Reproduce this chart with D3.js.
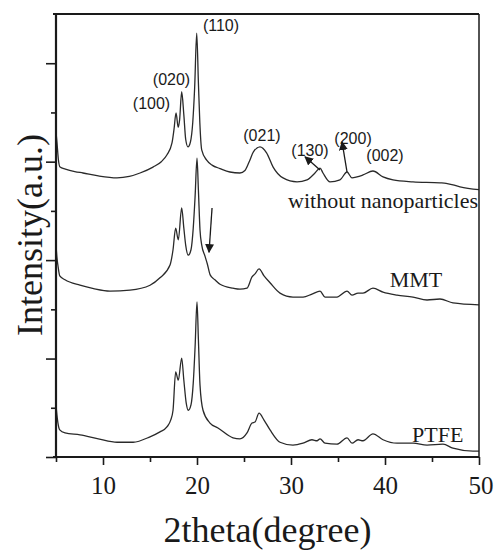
<!DOCTYPE html>
<html><head><meta charset="utf-8">
<script src="https://cdn.jsdelivr.net/npm/d3@7/dist/d3.min.js"></script>
<style>body{margin:0;background:#fff} svg{display:block}</style>
</head><body>
<svg id="c" width="494" height="550"></svg>
<script>
// ---- data (2theta in degrees, intensity in arbitrary offset units) ----
const thetaTop = [5.0,5.1,5.25,5.43,6.0,7.0,7.87,9.5,11.49,12.8,13.94,15.32,16.2,16.81,17.34,17.55,17.77,18.0,18.15,18.37,18.6,18.8,19.04,19.3,19.55,19.75,19.97,20.15,20.3,20.5,21.03,21.6,22.45,23.5,24.57,25.1,25.6,26.0,26.7,27.4,28.1,29.15,30.64,31.7,32.55,33.09,33.4,34.15,35.21,35.96,36.49,37.02,37.66,38.72,39.79,40.85,42.98,45.85,46.5,47.98,50];
const intensityTop = [6.60,6.40,6.05,5.89,5.85,5.80,5.77,5.71,5.67,5.70,5.77,5.89,6.00,6.14,6.38,6.65,6.99,6.70,6.85,7.42,6.95,6.45,6.30,6.40,6.80,7.50,8.61,7.60,6.80,6.24,6.03,5.93,5.86,5.79,5.77,5.82,6.02,6.20,6.30,6.18,5.89,5.67,5.59,5.63,5.77,5.87,5.77,5.59,5.63,5.79,5.67,5.69,5.73,5.81,5.69,5.63,5.59,5.57,5.56,5.49,5.43];

const thetaMMT = [5.0,5.1,5.2,5.4,5.96,7.55,9.0,10.74,12.87,15.0,16.06,17.13,17.45,17.73,18.01,18.37,18.6,18.8,19.07,19.36,19.6,19.8,20.0,20.15,20.32,20.5,20.85,21.1,21.4,21.91,22.45,23.83,24.57,25.32,25.85,26.17,26.6,27.13,27.77,28.83,30.21,31.28,32.23,33.09,33.62,34.89,35.96,36.49,37.13,37.66,38.72,39.79,41.28,42.98,44.47,45.85,47.23,50];
const intensityMMT = [4.31,4.05,3.90,3.68,3.60,3.49,3.42,3.37,3.39,3.49,3.64,3.90,4.21,4.65,4.41,5.06,4.65,4.30,4.10,4.21,4.65,5.30,6.07,5.42,4.61,4.31,4.08,3.92,3.70,3.60,3.51,3.43,3.41,3.43,3.66,3.72,3.82,3.68,3.54,3.33,3.25,3.25,3.31,3.37,3.25,3.25,3.37,3.29,3.33,3.33,3.43,3.35,3.29,3.25,3.19,3.21,3.13,3.09];

const thetaPTFE = [5.0,5.1,5.2,5.4,5.96,7.55,9.5,11.5,13.2,15.0,16.06,16.8,17.2,17.45,17.73,18.01,18.37,18.6,18.85,19.07,19.36,19.6,19.8,20.0,20.15,20.32,20.64,21.38,22.23,23.83,24.57,25.32,25.85,26.17,26.6,27.13,27.77,28.83,30.21,31.28,32.23,32.77,33.09,33.62,34.89,35.96,36.49,37.13,37.66,38.72,39.79,41.28,42.98,44.47,46.17,47.23,49.36,50];
const intensityPTFE = [1.06,0.85,0.70,0.55,0.49,0.45,0.37,0.30,0.30,0.41,0.51,0.61,0.75,0.95,1.73,1.56,2.01,1.56,1.10,0.95,1.06,1.50,2.25,3.15,2.38,1.46,0.95,0.69,0.59,0.39,0.37,0.49,0.69,0.71,0.89,0.75,0.55,0.30,0.24,0.28,0.35,0.33,0.37,0.28,0.26,0.39,0.28,0.35,0.33,0.47,0.35,0.28,0.28,0.24,0.26,0.18,0.12,0.12];

const xTicks = [5,10,15,20,25,30,35,40,45,50];
const xTickLabels = ["","10","","20","","30","","40","","50"];
const yTicks = [0,1,2,3,4,5,6,7,8];

const peakLabels = ["(110)","(020)","(100)","(021)","(130)","(200)","(002)"];
const peakLabelTheta = [22.55,17.29,15.16,26.91,32.02,36.6,40.0];
const peakLabelValue = [8.66,7.56,7.07,6.42,6.12,6.36,6.01];

const arrowTailTheta = [33.09,35.96,21.6];
const arrowTailValue = [5.83,5.79,5.06];
const arrowHeadTheta = [31.49,35.43,21.28];
const arrowHeadValue = [6.10,6.40,4.16];

const seriesNames = ["without nanoparticles","MMT","PTFE"];
const seriesNameTheta = [49.9,40.5,42.87];
const seriesNameValue = [5.06,3.45,0.30];
const seriesNameAnchor = ["end","start","start"];

// ---- drawing ----
const W = 494, H = 550;
const m = {left:56, top:14, right:15, bottom:93};
const svg = d3.select("#c");
const x = d3.scaleLinear().domain([5,50]).range([m.left, W-m.right]);
const y = d3.scaleLinear().domain([0,9]).range([H-m.bottom, m.top]);
const serif = "'Liberation Serif','Times New Roman',Times,serif";
const sans = "'Liberation Sans',Arial,Helvetica,sans-serif";
const ink = "#1a1a1a";

const line = d3.line().x(d=>x(d[0])).y(d=>y(d[1])).curve(d3.curveMonotoneX);
const series = [
  d3.zip(thetaTop, intensityTop),
  d3.zip(thetaMMT, intensityMMT),
  d3.zip(thetaPTFE, intensityPTFE)
];
svg.append("g").selectAll("path").data(series).join("path")
  .attr("d", line).attr("fill","none").attr("stroke","#2a2a2a").attr("stroke-width",1.3)
  .attr("stroke-linejoin","round");

// frame: top and right
svg.append("line").attr("x1",x(5)-3).attr("x2",x(50)).attr("y1",y(9)).attr("y2",y(9))
  .attr("stroke",ink).attr("stroke-width",2.2);
svg.append("line").attr("x1",x(50)).attr("x2",x(50)).attr("y1",y(9)).attr("y2",y(0))
  .attr("stroke",ink).attr("stroke-width",1.5);

// x axis
const xAxis = d3.axisBottom(x).tickValues(xTicks).tickSizeOuter(0)
  .tickSize(8).tickFormat((d,i)=>xTickLabels[i]);
const gx = svg.append("g").attr("transform",`translate(0,${y(0)})`).call(xAxis);
gx.select(".domain").attr("stroke",ink).attr("stroke-width",2.2).attr("d",`M${x(5)-3},0H${x(50)}`);
gx.selectAll(".tick line").attr("stroke",ink).attr("stroke-width",1.6)
  .attr("y2",(d,i)=> xTickLabels[i] ? 8 : 5);
gx.selectAll(".tick text").attr("font-family",serif).attr("font-size",25).attr("fill",ink)
  .attr("y",37).attr("dy",0)
  .attr("text-anchor",(d)=> d===50 ? "end" : "middle")
  .attr("dx",(d)=> d===50 ? 14 : 0);

// y axis (no labels)
const yAxis = d3.axisLeft(y).tickValues(yTicks).tickSizeOuter(0).tickFormat("");
const gy = svg.append("g").attr("transform",`translate(${x(5)},0)`).call(yAxis);
gy.select(".domain").attr("stroke",ink).attr("stroke-width",2.2).attr("d",`M0,${y(0)+1}V${y(9)}`);
gy.selectAll(".tick line").attr("stroke",ink).attr("stroke-width",1.6)
  .attr("x2",d=> d%2===0 ? -10 : -5);

// axis titles
svg.append("text").attr("x",(x(5)+x(50))/2).attr("y",542).attr("text-anchor","middle")
  .attr("font-family",serif).attr("font-size",36).attr("fill",ink).text("2theta(degree)");
svg.append("text").attr("transform","translate(42,235) rotate(-90)").attr("text-anchor","middle")
  .attr("font-family",serif).attr("font-size",36).attr("fill",ink).text("Intensity(a.u.)");

// peak labels
svg.append("g").selectAll("text").data(peakLabels).join("text")
  .attr("x",(d,i)=>x(peakLabelTheta[i])).attr("y",(d,i)=>y(peakLabelValue[i]))
  .attr("text-anchor","middle").attr("font-family",sans).attr("font-size",16).attr("fill",ink)
  .text(d=>d);

// arrows
svg.append("defs").append("marker").attr("id","ah").attr("viewBox","0 0 10 10")
  .attr("refX",9).attr("refY",5).attr("markerWidth",9).attr("markerHeight",9)
  .attr("markerUnits","userSpaceOnUse").attr("orient","auto")
  .append("path").attr("d","M0,0L10,5L0,10Z").attr("fill",ink);
svg.append("g").selectAll("line").data(arrowTailTheta).join("line")
  .attr("x1",(d,i)=>x(arrowTailTheta[i])).attr("y1",(d,i)=>y(arrowTailValue[i]))
  .attr("x2",(d,i)=>x(arrowHeadTheta[i])).attr("y2",(d,i)=>y(arrowHeadValue[i]))
  .attr("stroke",ink).attr("stroke-width",1.3).attr("marker-end","url(#ah)");

// series names
svg.append("g").selectAll("text").data(seriesNames).join("text")
  .attr("x",(d,i)=>x(seriesNameTheta[i])).attr("y",(d,i)=>y(seriesNameValue[i]))
  .attr("text-anchor",(d,i)=>seriesNameAnchor[i])
  .attr("font-family",serif).attr("font-size",22).attr("fill",ink).text(d=>d);
</script>
</body></html>
